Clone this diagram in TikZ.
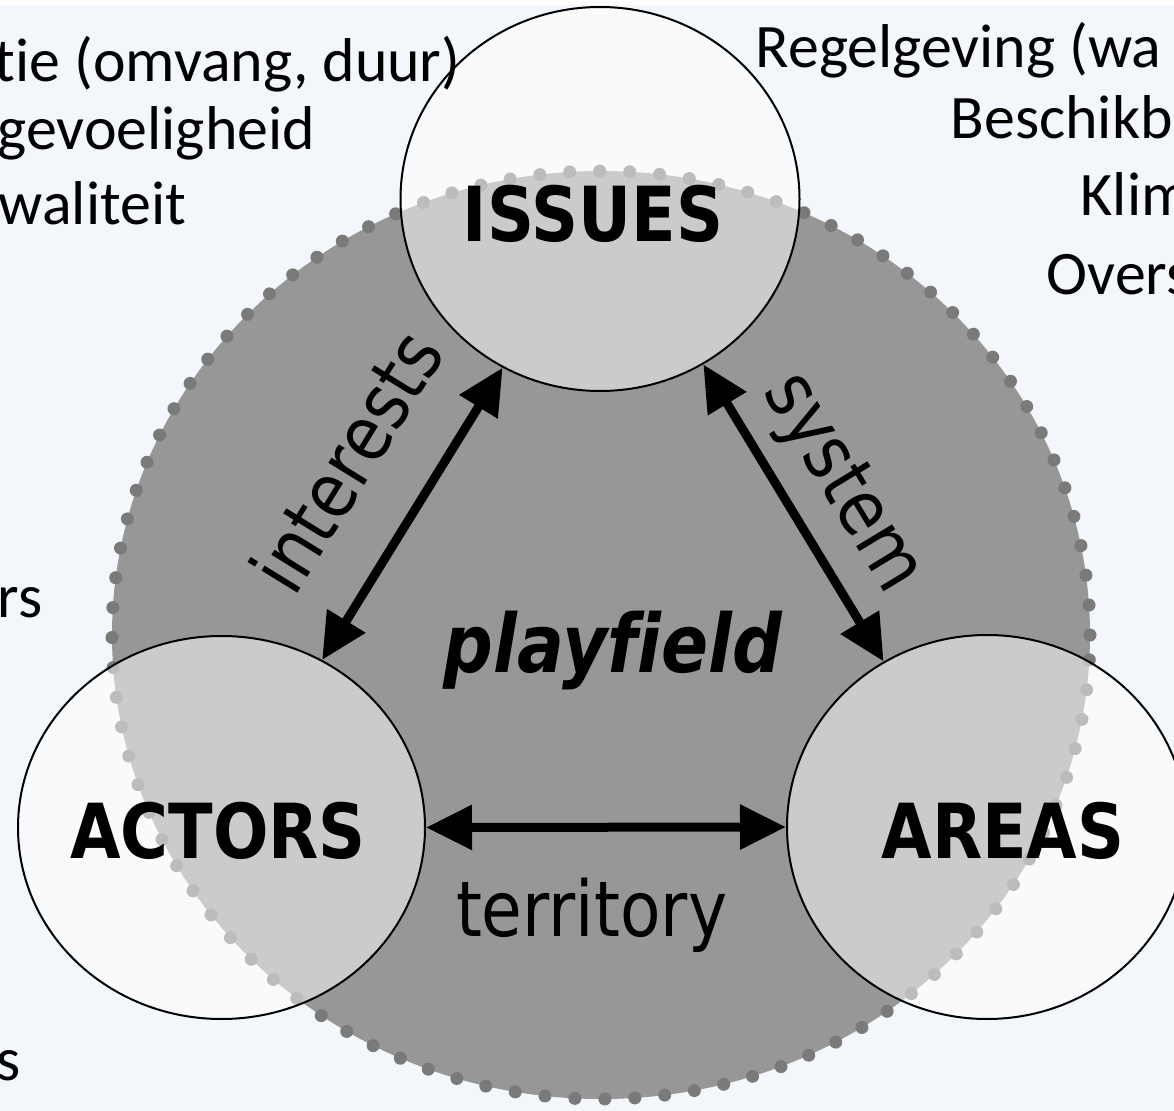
\documentclass[tikz,border=0pt]{standalone}
\usepackage{fontspec}
\setmainfont{Carlito}[Ligatures={NoCommon,NoContextual}]
\newfontfamily\diagfont[FakeStretch=0.86,Ligatures=NoCommon]{DejaVu Sans}
\usepackage{tikz}
\usetikzlibrary{shapes.geometric}
\usetikzlibrary{arrows.meta}
\definecolor{slidebg}{RGB}{243,246,250}
\definecolor{fieldgray}{RGB}{151,151,151}
\definecolor{dotgray}{RGB}{122,122,122}
\tikzset{
field/.style = {ellipse, draw=dotgray, fill=fieldgray, line width=1.3mm, dash pattern=on 0pt off 3mm, line cap=round, minimum width=97.8mm, minimum height=92.8mm, inner sep=0pt},
pole/.style = {ellipse, draw, fill=white, fill opacity=0.5, line width=0.2mm, minimum width=39.9mm, minimum height=38.4mm, inner sep=0pt},
bigword/.style = {font=\diagfont\fontsize{21.6}{24}\selectfont\bfseries, anchor=base},
smallword/.style = {font=\diagfont\fontsize{21.9}{24}\selectfont, inner sep=0pt},
note/.style = {font=\fontsize{17.6}{20}\selectfont, anchor=base west, inner sep=0pt},
line/.style = {draw, line width=0.09cm, {Triangle[length=4.6mm,width=4.3mm]}-{Triangle[length=4.6mm,width=4.3mm]}}
}

\begin{document}
\begin{tikzpicture}[x=0.1mm, y=-0.1mm]
    \useasboundingbox (0,0) rectangle (1174,1111);
    \fill [slidebg] (0,0) rectangle (1174,1111);
    \fill [white] (0,0) rectangle (1174,5);

    % playing field and the three poles
    \node [field] (field) at (601,635) {};
    \node [pole] (issues) at (600,199) {};
    \node [pole, minimum width=40.7mm, minimum height=38.3mm] (actors) at (221.5,827.5) {};
    \node [pole, minimum width=40mm] (areas) at (987,827) {};

    \node [bigword] (issueslbl) at (593,242) {ISSUES};
    \node [bigword] (actorslbl) at (218,858) {ACTORS};
    \node [bigword] (areaslbl) at (1003,858) {AREAS};
    \node [bigword, font=\diagfont\fontsize{23}{26}\selectfont\bfseries\itshape] (fieldlbl) at (613,673) {playfield};

    \path [line] (actors.59) -- node [pos=0.53, sloped, above=5mm, smallword] {interests} (issues.240);
    \path [line] (issues.302) -- node [midway, sloped, above=1.6mm, smallword] {system} (areas.122);
    \path [line] (actors.east) -- node [pos=0.46, below=4.6mm, smallword] {territory} (areas.west);

    % text around the picture
    \node [note] (lefta) at (-6,82) {tie (omvang, duur)};
    \node [note] (leftb) at (-3,150) {gevoeligheid};
    \node [note] (leftc) at (-2,225) {waliteit};
    \node [note] (leftd) at (-3,618) {rs};
    \node [note] (lefte) at (-4,1080) {s};
    \node [note] (righta) at (755,68) {Regelgeving (wa};
    \node [note] (rightb) at (950,139) {Beschikb};
    \node [note] (rightc) at (1080,216) {Klim};
    \node [note] (rightd) at (1046,295) {Overs};
\end{tikzpicture}
\end{document}
